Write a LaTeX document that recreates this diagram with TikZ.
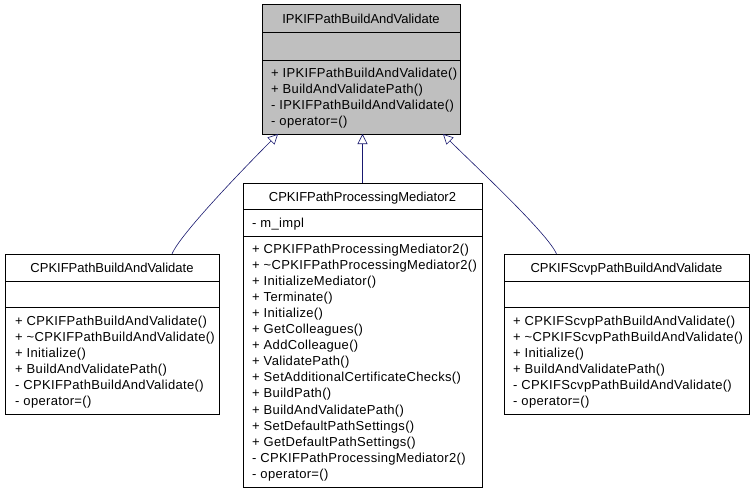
\documentclass[tikz,border=0pt]{standalone}
\usepackage{fontspec}
\setmainfont{Liberation Sans}
\newfontfamily\memberfont[LetterSpace=2.5]{Liberation Sans}
\usetikzlibrary{arrows.meta}
\definecolor{edgeblue}{HTML}{191970}
\definecolor{boxgray}{HTML}{BFBFBF}
\begin{document}
\begin{tikzpicture}[x=1pt,y=-1pt,
  font=\fontsize{13}{16}\selectfont,
  classbox/.style={draw=black, line width=0.8pt, anchor=north west, inner sep=0pt, outer sep=0pt},
  sepline/.style={draw=black, line width=0.8pt},
  ctitle/.style={anchor=base, inner sep=0pt},
  member/.style={anchor=base west, inner sep=0pt, font=\memberfont\fontsize{13}{16}\selectfont},
  inherit/.style={draw=edgeblue, line width=0.6pt, -{Triangle[open, length=10pt, width=10pt, line width=0.6pt]}}]
\useasboundingbox[fill=white] (0,0) rectangle (752,491);

% top class
\node[classbox, fill=boxgray, minimum width=198pt, minimum height=130pt] (top) at (262,4) {};
\draw[sepline] (262,32) -- (460,32);
\draw[sepline] (262,60) -- (460,60);
\node[ctitle] (top-t) at (361,23) {IPKIFPathBuildAndValidate};
\foreach [count=\i] \t in {{+ IPKIFPathBuildAndValidate()},{+ BuildAndValidatePath()},{- IPKIFPathBuildAndValidate()},{- operator=()}}
  \node[member] (top-m\i) at (271,{77+(\i-1)*16}) {\t};

% left class
\node[classbox, minimum width=214pt, minimum height=160pt] (left) at (5,254) {};
\draw[sepline] (5,281) -- (219,281);
\draw[sepline] (5,307) -- (219,307);
\node[ctitle] (left-t) at (112,272.5) {CPKIFPathBuildAndValidate};
\foreach [count=\i] \t in {{+ CPKIFPathBuildAndValidate()},{+ \textasciitilde CPKIFPathBuildAndValidate()},{+ Initialize()},{+ BuildAndValidatePath()},{- CPKIFPathBuildAndValidate()},{- operator=()}}
  \node[member] (left-m\i) at (15,{325+(\i-1)*16}) {\t};

% middle class
\node[classbox, minimum width=239pt, minimum height=304pt] (mid) at (243,183) {};
\draw[sepline] (243,209) -- (482,209);
\draw[sepline] (243,236) -- (482,236);
\node[ctitle] (mid-t) at (362.5,201) {CPKIFPathProcessingMediator2};
\node[member] (mid-a1) at (252,227.5) {- m\_impl};
\foreach [count=\i] \t in {{+ CPKIFPathProcessingMediator2()},{+ \textasciitilde CPKIFPathProcessingMediator2()},{+ InitializeMediator()},{+ Terminate()},{+ Initialize()},{+ GetColleagues()},{+ AddColleague()},{+ ValidatePath()},{+ SetAdditionalCertificateChecks()},{+ BuildPath()},{+ BuildAndValidatePath()},{+ SetDefaultPathSettings()},{+ GetDefaultPathSettings()},{- CPKIFPathProcessingMediator2()},{- operator=()}}
  \node[member] (mid-m\i) at (252,{253+(\i-1)*16.1}) {\t};

% right class
\node[classbox, minimum width=245pt, minimum height=160pt] (right) at (504,254) {};
\draw[sepline] (504,281) -- (749,281);
\draw[sepline] (504,307) -- (749,307);
\node[ctitle] (right-t) at (626.5,272.5) {CPKIFScvpPathBuildAndValidate};
\foreach [count=\i] \t in {{+ CPKIFScvpPathBuildAndValidate()},{+ \textasciitilde CPKIFScvpPathBuildAndValidate()},{+ Initialize()},{+ BuildAndValidatePath()},{- CPKIFScvpPathBuildAndValidate()},{- operator=()}}
  \node[member] (right-m\i) at (513,{325+(\i-1)*16}) {\t};

% inheritance connectors
\draw[inherit] ([xshift=60pt]left.north) .. controls +(8,-20) and +(-30,30) .. ([xshift=-83pt]top.south);
\draw[inherit] (mid.north) -- (mid.north |- top.south);
\draw[inherit] ([xshift=-70pt]right.north) .. controls +(-8,-20) and +(30,30) .. ([xshift=82pt]top.south);
\end{tikzpicture}
\end{document}
